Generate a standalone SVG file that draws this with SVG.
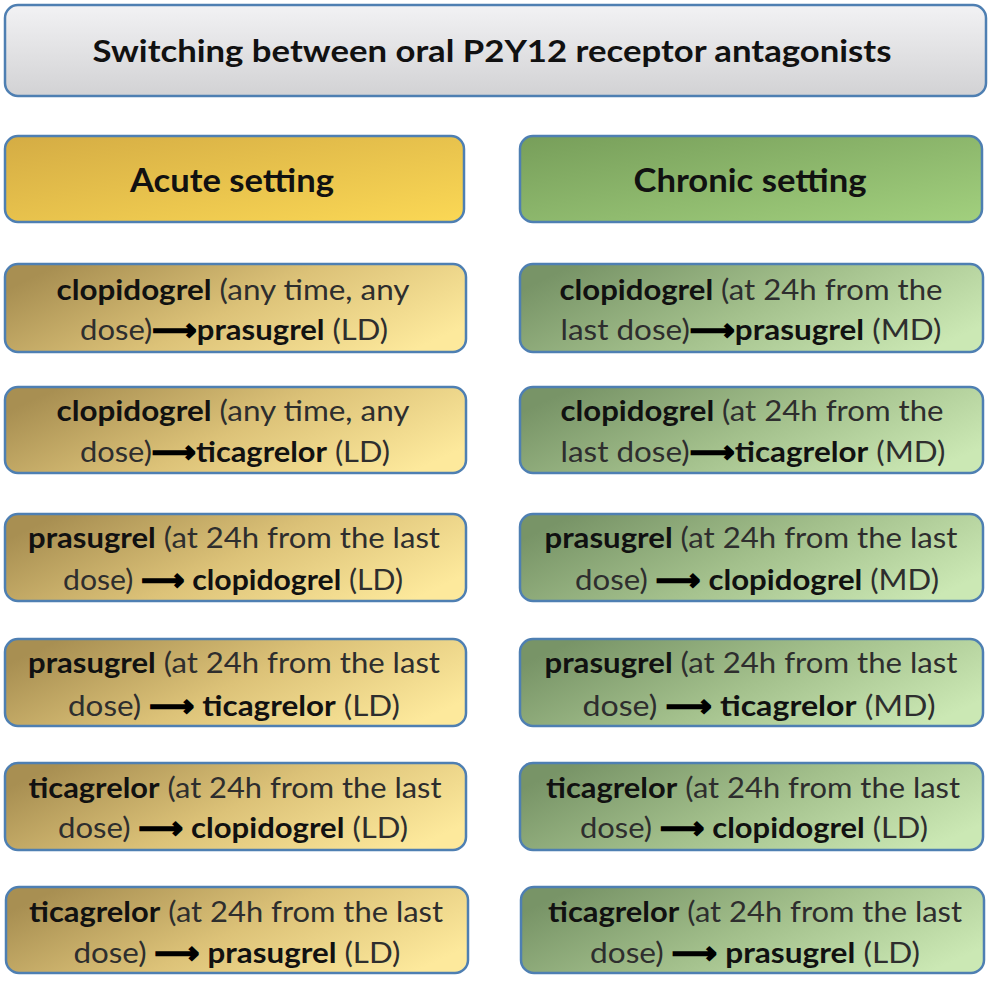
<svg xmlns="http://www.w3.org/2000/svg" width="992" height="981" viewBox="0 0 992 981">
<defs>
<linearGradient id="gTitle" x1="0" y1="0" x2="0" y2="1"><stop offset="0" stop-color="#f2f2f4"/><stop offset="1" stop-color="#d2d2d4"/></linearGradient>
<linearGradient id="gAcuteH" x1="0" y1="0" x2="1" y2="1"><stop offset="0" stop-color="#d4ac44"/><stop offset="1" stop-color="#fbd855"/></linearGradient>
<linearGradient id="gChronH" x1="0" y1="0" x2="1" y2="1"><stop offset="0" stop-color="#779e5a"/><stop offset="1" stop-color="#a2d07e"/></linearGradient>
<linearGradient id="gAcute" x1="0" y1="0.3" x2="1" y2="0.7"><stop offset="0" stop-color="#a88f52"/><stop offset="0.5" stop-color="#dcc278"/><stop offset="1" stop-color="#fde99c"/></linearGradient>
<linearGradient id="gChron" x1="0" y1="0.3" x2="1" y2="0.7"><stop offset="0" stop-color="#789467"/><stop offset="0.5" stop-color="#a3c08c"/><stop offset="1" stop-color="#cbe8b4"/></linearGradient>
</defs>
<style>
rect.box{stroke:#4e7fb2;stroke-width:2.5}
text{font-family:Lato,"Liberation Sans",sans-serif;fill:#2e2e2e;font-size:29px;text-anchor:middle}
.b{font-weight:bold;fill:#111}
.h{font-size:33px;font-weight:bold;fill:#111}
.t{font-size:31px;font-weight:bold;fill:#111}
.ar{font-family:"DejaVu Sans",sans-serif;font-weight:bold;fill:#000;stroke:#000;stroke-width:1.6}
</style>
<g id="title">
<rect class="box" x="5" y="5" width="981" height="91" rx="13" fill="url(#gTitle)"/>
<text class="t" x="492" y="62" textLength="799" lengthAdjust="spacingAndGlyphs">Switching between oral P2Y12 receptor antagonists</text>
</g>
<g id="acute-header">
<rect class="box" x="5" y="136" width="459" height="86" rx="13" fill="url(#gAcuteH)"/>
<text class="h" x="232" y="192" textLength="204" lengthAdjust="spacingAndGlyphs">Acute setting</text>
</g>
<g id="chronic-header">
<rect class="box" x="520" y="136" width="462" height="86" rx="13" fill="url(#gChronH)"/>
<text class="h" x="750" y="192" textLength="233" lengthAdjust="spacingAndGlyphs">Chronic setting</text>
</g>

<g id="a1">
<rect class="box" x="5" y="264" width="461" height="88" rx="13" fill="url(#gAcute)"/>
<text x="233" y="300" textLength="353" lengthAdjust="spacingAndGlyphs"><tspan class="b">clopidogrel</tspan> (any time, any</text>
<text x="234" y="340" textLength="308" lengthAdjust="spacingAndGlyphs">dose)<tspan class="ar">⟶</tspan><tspan class="b">prasugrel</tspan> (LD)</text>
</g>
<g id="a2">
<rect class="box" x="5" y="387" width="461" height="86" rx="13" fill="url(#gAcute)"/>
<text x="233" y="421" textLength="353" lengthAdjust="spacingAndGlyphs"><tspan class="b">clopidogrel</tspan> (any time, any</text>
<text x="235" y="462" textLength="310" lengthAdjust="spacingAndGlyphs">dose)<tspan class="ar">⟶</tspan><tspan class="b">ticagrelor</tspan> (LD)</text>
</g>
<g id="a3">
<rect class="box" x="5" y="514" width="461" height="87" rx="13" fill="url(#gAcute)"/>
<text x="234" y="548" textLength="412" lengthAdjust="spacingAndGlyphs"><tspan class="b">prasugrel</tspan> (at 24h from the last</text>
<text x="233" y="590" textLength="340" lengthAdjust="spacingAndGlyphs">dose) <tspan class="ar">⟶</tspan> <tspan class="b">clopidogrel</tspan> (LD)</text>
</g>
<g id="a4">
<rect class="box" x="5" y="639" width="461" height="87" rx="13" fill="url(#gAcute)"/>
<text x="234" y="673" textLength="412" lengthAdjust="spacingAndGlyphs"><tspan class="b">prasugrel</tspan> (at 24h from the last</text>
<text x="234" y="716" textLength="332" lengthAdjust="spacingAndGlyphs">dose) <tspan class="ar">⟶</tspan> <tspan class="b">ticagrelor</tspan> (LD)</text>
</g>
<g id="a5">
<rect class="box" x="5" y="763" width="461" height="87" rx="13" fill="url(#gAcute)"/>
<text x="235" y="798" textLength="413" lengthAdjust="spacingAndGlyphs"><tspan class="b">ticagrelor</tspan> (at 24h from the last</text>
<text x="233" y="838" textLength="350" lengthAdjust="spacingAndGlyphs">dose) <tspan class="ar">⟶</tspan> <tspan class="b">clopidogrel</tspan> (LD)</text>
</g>
<g id="a6">
<rect class="box" x="6" y="887" width="462" height="86" rx="13" fill="url(#gAcute)"/>
<text x="236" y="922" textLength="414" lengthAdjust="spacingAndGlyphs"><tspan class="b">ticagrelor</tspan> (at 24h from the last</text>
<text x="237" y="963" textLength="327" lengthAdjust="spacingAndGlyphs">dose) <tspan class="ar">⟶</tspan> <tspan class="b">prasugrel</tspan> (LD)</text>
</g>

<g id="c1">
<rect class="box" x="520" y="264" width="463" height="88" rx="13" fill="url(#gChron)"/>
<text x="751" y="300" textLength="383" lengthAdjust="spacingAndGlyphs"><tspan class="b">clopidogrel</tspan> (at 24h from the</text>
<text x="751" y="340" textLength="381" lengthAdjust="spacingAndGlyphs">last dose)<tspan class="ar">⟶</tspan><tspan class="b">prasugrel</tspan> (MD)</text>
</g>
<g id="c2">
<rect class="box" x="520" y="387" width="463" height="86" rx="13" fill="url(#gChron)"/>
<text x="752" y="421" textLength="383" lengthAdjust="spacingAndGlyphs"><tspan class="b">clopidogrel</tspan> (at 24h from the</text>
<text x="753" y="462" textLength="385" lengthAdjust="spacingAndGlyphs">last dose)<tspan class="ar">⟶</tspan><tspan class="b">ticagrelor</tspan> (MD)</text>
</g>
<g id="c3">
<rect class="box" x="520" y="514" width="463" height="87" rx="13" fill="url(#gChron)"/>
<text x="751" y="548" textLength="413" lengthAdjust="spacingAndGlyphs"><tspan class="b">prasugrel</tspan> (at 24h from the last</text>
<text x="757" y="590" textLength="364" lengthAdjust="spacingAndGlyphs">dose) <tspan class="ar">⟶</tspan> <tspan class="b">clopidogrel</tspan> (MD)</text>
</g>
<g id="c4">
<rect class="box" x="520" y="639" width="463" height="87" rx="13" fill="url(#gChron)"/>
<text x="751" y="673" textLength="413" lengthAdjust="spacingAndGlyphs"><tspan class="b">prasugrel</tspan> (at 24h from the last</text>
<text x="759" y="716" textLength="353" lengthAdjust="spacingAndGlyphs">dose) <tspan class="ar">⟶</tspan> <tspan class="b">ticagrelor</tspan> (MD)</text>
</g>
<g id="c5">
<rect class="box" x="520" y="763" width="463" height="87" rx="13" fill="url(#gChron)"/>
<text x="753" y="798" textLength="414" lengthAdjust="spacingAndGlyphs"><tspan class="b">ticagrelor</tspan> (at 24h from the last</text>
<text x="754" y="838" textLength="348" lengthAdjust="spacingAndGlyphs">dose) <tspan class="ar">⟶</tspan> <tspan class="b">clopidogrel</tspan> (LD)</text>
</g>
<g id="c6">
<rect class="box" x="521" y="887" width="463" height="86" rx="13" fill="url(#gChron)"/>
<text x="755" y="922" textLength="414" lengthAdjust="spacingAndGlyphs"><tspan class="b">ticagrelor</tspan> (at 24h from the last</text>
<text x="755" y="963" textLength="330" lengthAdjust="spacingAndGlyphs">dose) <tspan class="ar">⟶</tspan> <tspan class="b">prasugrel</tspan> (LD)</text>
</g>
<g id="connectors"/>
</svg>
